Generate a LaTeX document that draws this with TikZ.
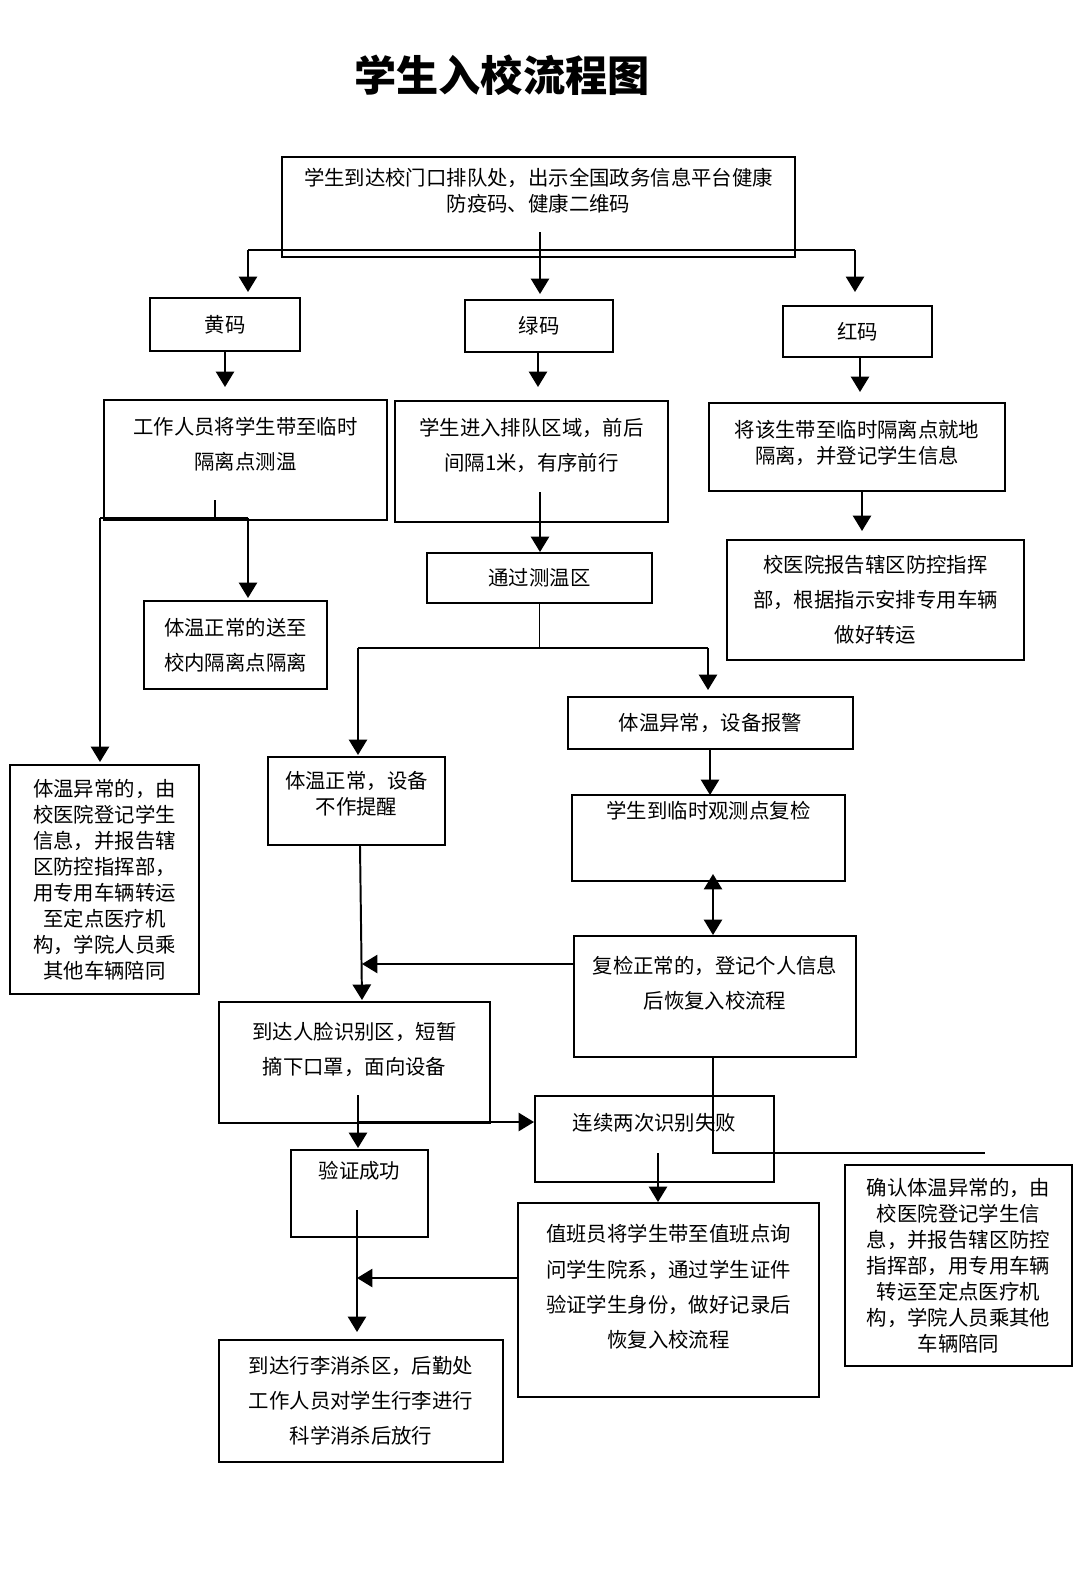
\documentclass[tikz,border=0pt]{standalone}
\usepackage{fontspec}
\setmainfont{Noto Sans CJK SC}
\usetikzlibrary{arrows.meta}
\newcommand\flowbox[7][]{%
  \node[box,minimum width={(#5-#3)*0.025cm},minimum height={(#6-#4)*0.025cm},#1]
    (#2) at ({(#3+#5)/2},{(#4+#6)/2}) {#7};}
\begin{document}
\begin{tikzpicture}[
    x=0.025cm, y=-0.025cm,
    box/.style={
        rectangle,
        draw=black,
        line width=1.4pt,
        inner sep=0pt,
        align=center,
        font=\fontsize{14.5pt}{18.5pt}\selectfont
    },
    wide/.style={font=\fontsize{14.5pt}{25pt}\selectfont},
    line/.style={line width=1.4pt},
    arr/.style={line width=1.4pt, -{Triangle[width=13pt,length=11pt]}},
    dbl/.style={line width=1.4pt, {Triangle[width=13pt,length=11pt]}-{Triangle[width=13pt,length=11pt]}}
]
    \useasboundingbox[fill=white] (0,0) rectangle (1080,1570);
    \node[font=\fontsize{30pt}{36pt}\selectfont\bfseries] (title) at (502,75) {学生入校流程图};

    % top and the three codes
    \flowbox[text depth=24pt]{start}{282}{157}{795}{257}{学生到达校门口排队处，出示全国政务信息平台健康\\防疫码、健康二维码}
    \flowbox{yellow}{150}{298}{300}{351}{黄码}
    \flowbox{green}{465}{300}{613}{352}{绿码}
    \flowbox{red}{783}{306}{932}{357}{红码}

    % yellow branch
    \flowbox[wide,text depth=24pt]{ytake}{104}{400}{387}{520}{工作人员将学生带至临时\\隔离点测温}
    \flowbox[wide]{ynormal}{144}{601}{327}{689}{体温正常的送至\\校内隔离点隔离}
    \flowbox{yabnormal}{10}{765}{199}{994}{体温异常的，由\\校医院登记学生\\信息，并报告辖\\区防控指挥部，\\用专用车辆转运\\至定点医疗机\\构，学院人员乘\\其他车辆陪同}

    % green branch
    \flowbox[wide,text depth=24pt]{queue}{395}{401}{668}{522}{学生进入排队区域，前后\\间隔1米，有序前行}
    \flowbox{zone}{427}{553}{652}{603}{通过测温区}
    \flowbox{alarm}{568}{697}{853}{749}{体温异常，设备报警}
    \flowbox[text depth=12pt]{normal}{268}{757}{445}{845}{体温正常，设备\\不作提醒}
    \flowbox[text depth=40pt]{recheck}{572}{795}{845}{881}{学生到临时观测点复检}
    \flowbox[wide,text depth=20pt]{recover}{574}{936}{856}{1057}{复检正常的，登记个人信息\\后恢复入校流程}
    \flowbox[wide,text depth=20pt]{face}{219}{1002}{490}{1123}{到达人脸识别区，短暂\\摘下口罩，面向设备}
    \flowbox[text depth=24pt]{fail}{535}{1096}{774}{1182}{连续两次识别失败}
    \flowbox[text depth=34pt]{success}{291}{1150}{428}{1237}{验证成功}
    \flowbox[wide,text depth=20pt]{duty}{518}{1203}{819}{1397}{值班员将学生带至值班点询\\问学生院系，通过学生证件\\验证学生身份，做好记录后\\恢复入校流程}
    \flowbox{confirm}{845}{1165}{1072}{1366}{确认体温异常的，由\\校医院登记学生信\\息，并报告辖区防控\\指挥部，用专用车辆\\转运至定点医疗机\\构，学院人员乘其他\\车辆陪同}
    \flowbox[wide]{luggage}{219}{1340}{503}{1462}{到达行李消杀区，后勤处\\工作人员对学生行李进行\\科学消杀后放行}

    % red branch
    \flowbox[text depth=8pt]{redtake}{709}{403}{1005}{491}{将该生带至临时隔离点就地\\隔离，并登记学生信息}
    \flowbox[wide]{report}{727}{540}{1024}{660}{校医院报告辖区防控指挥\\部，根据指示安排专用车辆\\做好转运}

    % junction points
    \coordinate (sl) at (248,250);
    \coordinate (sr) at (855,250);
    \coordinate (sm) at (540,232);
    \coordinate (yl) at (100,518);
    \coordinate (yr) at (248,518);
    \coordinate (ym) at (215,500);
    \coordinate (zl) at (358,648);
    \coordinate (zr) at (708,648);
    \coordinate (fj) at (713,1153);
    \coordinate (fe) at (985,1153);

    % connectors
    \draw[line] (sl) -- (sr);
    \draw[arr] (sl) -- (248,292);
    \draw[arr] (sm) -- (540,294);
    \draw[arr] (sr) -- (855,292);
    \draw[arr] (yellow.south -| 225,0) -- (225,387);
    \draw[arr] (green.south -| 538,0) -- (538,387);
    \draw[arr] (red.south -| 860,0) -- (860,392);
    \draw[line] (ym) -- (215,518);
    \draw[line] (yl) -- (yr);
    \draw[arr] (yr) -- (248,598);
    \draw[arr] (yl) -- (100,762);
    \draw[arr] (540,492) -- (zone.north -| 540,0);
    \draw[arr] (redtake.south -| 862,0) -- (862,531);
    \draw[line] (zone.south) |- (zl) -- (zr);
    \draw[arr] (zl) -- (358,755);
    \draw[arr] (zr) -- (708,690);
    \draw[arr] (alarm.south -| 710,0) -- (710,795);
    \draw[dbl] (713,874) -- (recover.north -| 713,0);
    \draw[line] (recover.south -| 713,0) -- (fj) -- (fe);
    \draw[arr] (recover.west |- 0,964) -- (362,964);
    \draw[arr] (normal.south -| 360,0) -- (362,1000);
    \draw[arr] (358,1095) -- (358,1148);
    \draw[arr] (358,1122) -- (fail.west |- 0,1122);
    \draw[arr] (658,1153) -- (duty.north -| 658,0);
    \draw[arr] (357,1210) -- (357,1332);
    \draw[arr] (duty.west |- 0,1278) -- (357,1278);
\end{tikzpicture}
\end{document}
